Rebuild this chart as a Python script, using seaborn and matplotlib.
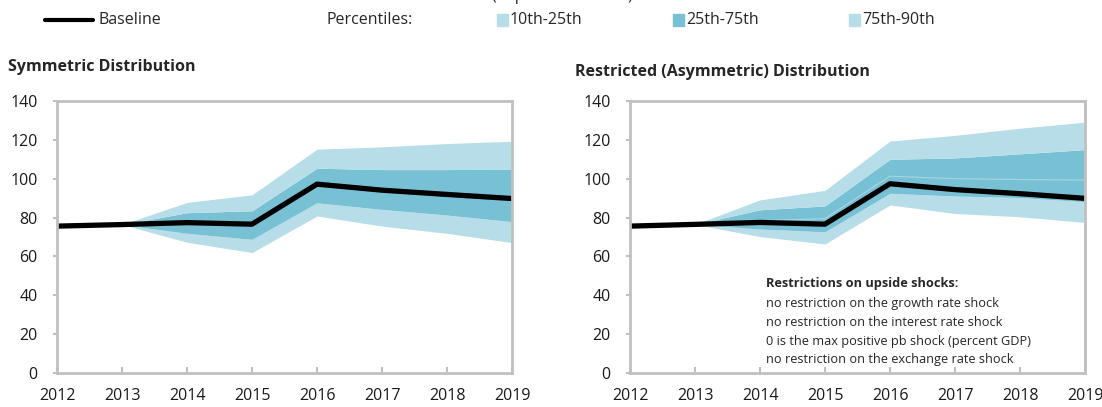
import matplotlib
matplotlib.use("Agg")
import matplotlib.pyplot as plt
from matplotlib.lines import Line2D
from matplotlib.patches import Rectangle
import seaborn as sns
import pandas as pd

years = [2012, 2013, 2014, 2015, 2016, 2017, 2018, 2019]

# symmetric distribution
sym_baseline = [75.6, 76.4, 77.4, 76.6, 97.2, 94.1, 91.9, 89.8]
sym_p10 = [75.6, 76.4, 67.3, 62.0, 80.8, 75.6, 71.9, 67.1]
sym_p25 = [75.6, 76.4, 71.9, 68.8, 87.6, 84.2, 81.3, 77.9]
sym_p75 = [75.6, 76.4, 82.5, 83.5, 105.4, 104.7, 104.7, 104.9]
sym_p90 = [75.6, 76.4, 87.8, 91.7, 115.2, 116.4, 118.1, 119.3]

# restricted (asymmetric) distribution
res_baseline = [75.6, 76.5, 77.5, 76.6, 97.4, 94.4, 92.3, 89.9]
res_p10 = [75.6, 76.5, 70.2, 66.4, 86.5, 82.1, 80.4, 77.5]
res_p25 = [75.6, 76.5, 74.1, 72.7, 92.5, 91.1, 90.3, 88.2]
res_p50 = [75.6, 76.5, 78.4, 79.5, 101.3, 100.0, 99.6, 99.3]
res_p75 = [75.6, 76.5, 84.0, 86.0, 110.0, 110.7, 112.8, 115.0]
res_p90 = [75.6, 76.5, 89.1, 94.0, 119.4, 122.3, 126.0, 129.1]

titles = ["Symmetric Distribution", "Restricted (Asymmetric) Distribution"]
unit_note = "(in percent of GDP)"
legend_labels = ["10th-25th", "25th-75th", "75th-90th"]
notes_title = "Restrictions on upside shocks:"
notes = ["no restriction on the growth rate shock",
         "no restriction on the interest rate shock",
         "0 is the max positive pb shock (percent GDP)",
         "no restriction on the exchange rate shock"]

light = "#b7dde8"
dark = "#78c0d4"
frame = "#c0c0c0"

sns.set_style("white")
plt.rcParams["font.family"] = ["Open Sans", "DejaVu Sans"]

fig = plt.figure(figsize=(11.02, 4.07), dpi=100)
W, H = 1102, 407


def fan(ax, base, p10, p25, p75, p90, p50=None):
    ax.fill_between(years, p10, p25, color=light, lw=0)
    ax.fill_between(years, p25, p75, color=dark, lw=0)
    ax.fill_between(years, p75, p90, color=light, lw=0)
    if p50 is not None:
        ax.plot(years, p50, color="#a6d6e3", lw=0.8)
    df = pd.DataFrame({"year": years, "value": base})
    sns.lineplot(data=df, x="year", y="value", ax=ax, color="black", lw=3.8)
    ax.set_xlim(2012, 2019)
    ax.set_ylim(0, 140)
    ax.set_yticks(range(0, 141, 20))
    ax.set_xticks(years)
    ax.set_xlabel("")
    ax.set_ylabel("")
    for s in ax.spines.values():
        s.set_color(frame)
        s.set_linewidth(2)
    ax.tick_params(axis="x", direction="in", length=4, width=1.5, color=frame,
                   labelsize=11.5, pad=11, bottom=True)
    ax.tick_params(axis="y", direction="out", length=3, width=1.5, color=frame,
                   labelsize=11.5, pad=11, left=True)
    for lab in ax.get_xticklabels() + ax.get_yticklabels():
        lab.set_color("#1a1a1a")


ax1 = fig.add_axes([57 / W, 34 / H, 455 / W, 272 / H])
fan(ax1, sym_baseline, sym_p10, sym_p25, sym_p75, sym_p90)
ax2 = fig.add_axes([630 / W, 34 / H, 455 / W, 272 / H])
fan(ax2, res_baseline, res_p10, res_p25, res_p75, res_p90, p50=res_p50)

# unit line, cut off by the top edge as in the original
fig.text(492 / W, 1.0, unit_note, fontsize=11.5, va="baseline")

fig.text(8 / W, 1 - 67 / H, titles[0], fontsize=11.5, fontweight="bold", va="center")
fig.text(575 / W, 1 - 72 / H, titles[1], fontsize=11.5, fontweight="bold", va="center")

# notes in the restricted panel
fig.text(766 / W, 1 - 283 / H, notes_title, fontsize=9.2, fontweight="bold", va="center")
for i, t in enumerate(notes):
    fig.text(766 / W, 1 - (303 + 19 * i) / H, t, fontsize=9.2, va="center")

# legend on top
ly = 1 - 20 / H
fig.add_artist(Line2D([45 / W, 93 / W], [ly, ly], color="black", lw=3))
fig.text(98 / W, ly, "Baseline", fontsize=11.5, va="center")
fig.text(326 / W, ly, "Percentiles:", fontsize=11.5, va="center")
for x0, lab, c in zip([497, 673, 849], legend_labels, [light, dark, light]):
    fig.add_artist(Rectangle((x0 / W, ly - 6 / H), 11 / W, 12 / H, color=c,
                             transform=fig.transFigure))
    fig.text((x0 + 13) / W, ly, lab, fontsize=11.5, va="center")

fig.savefig("out.png", dpi=100)
